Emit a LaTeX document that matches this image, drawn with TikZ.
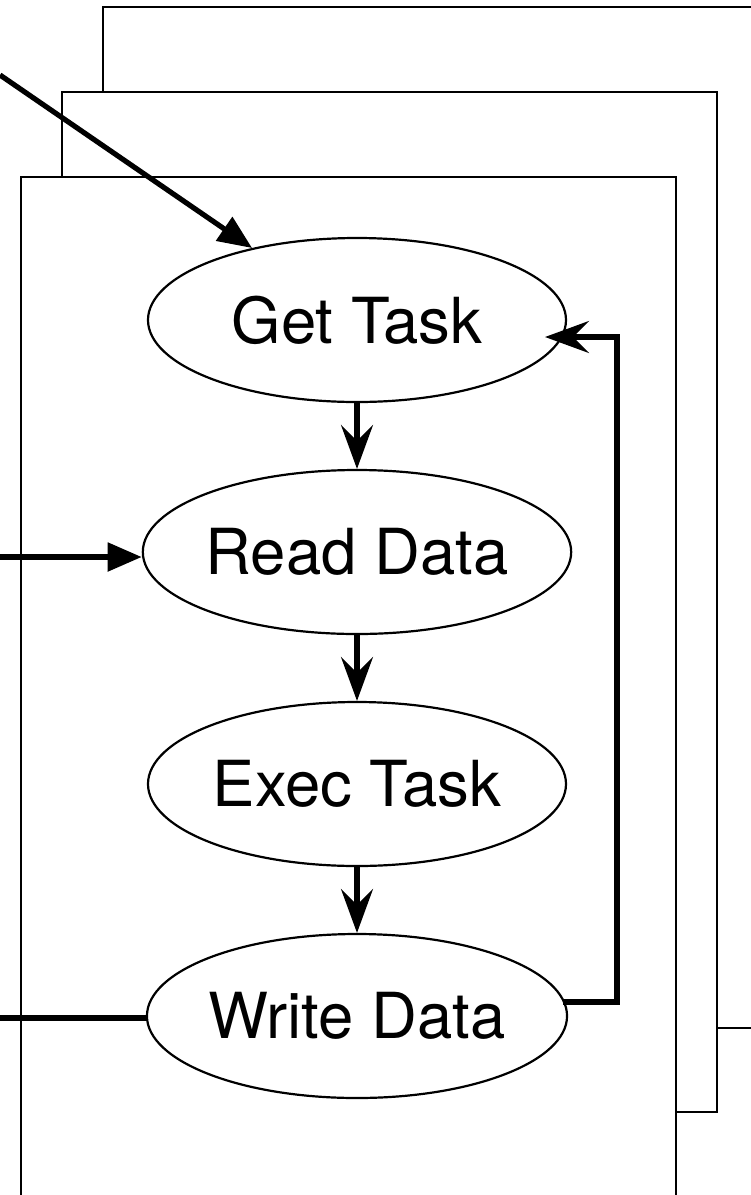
\documentclass[tikz,border=0pt]{standalone}
\usepackage{fontspec}
\setmainfont{TeX Gyre Heros}
\usetikzlibrary{arrows.meta,shapes.geometric}
\begin{document}
\begin{tikzpicture}[x=1pt,y=-1pt,
  frame/.style={draw,fill=white,line width=2.2pt},
  stage/.style={draw,ellipse,fill=white,line width=2.2pt,minimum width=418pt,minimum height=164pt,inner sep=0pt,font=\fontsize{63.5}{63.5}\selectfont},
  flow/.style={line width=5.2pt,-{Stealth[length=44pt,width=32pt,inset=16pt]}},
  inarrow/.style={line width=5.2pt,-{Triangle[length=34pt,width=28pt]}},
  wire/.style={line width=5.2pt}]
\useasboundingbox (0,0) rectangle (751,1195);
\clip (0,0) rectangle (751,1195);
% stacked frames, back to front
\draw[frame] (103,7) rectangle (770,1028);
\draw[frame] (62,92) rectangle (717,1112);
\draw[frame] (21,177) rectangle (676,1230);
% stages
\node[stage] (gt) at (357,320) {Get Task};
\node[stage] (rd) at (357,552) {Read Data};
\node[stage] (ex) at (357,784) {Exec Task};
\node[stage] (wd) at (357,1016) {Write Data};
% incoming connectors
\coordinate (a1) at (0,75);
\draw[inarrow] (a1) -- (gt);
\coordinate (a2) at (0,557);
\draw[inarrow] (a2) -- (a2 -| rd.west);
\coordinate (a3) at (0,1018);
\draw[wire] (a3) -- (a3 -| wd.west);
% main flow
\draw[flow] (gt) -- (rd);
\draw[flow] (rd) -- (ex);
\draw[flow] (ex) -- (wd);
% feedback loop
\coordinate (f1) at (563,1002);
\coordinate (f2) at (545,337);
\coordinate (fr) at (617,0);
\draw[flow] (f1) -- (f1 -| fr) -- (f2 -| fr) -- (f2);
\end{tikzpicture}
\end{document}
